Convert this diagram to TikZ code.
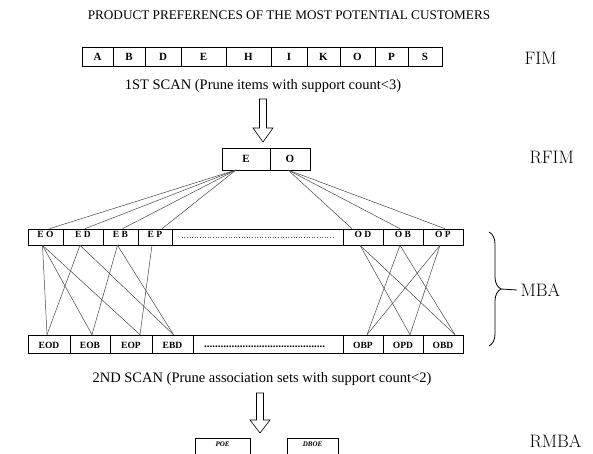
\documentclass[tikz,border=0pt]{standalone}
\usepackage{fontspec}
\newfontfamily\tnr{Liberation Serif}
\usetikzlibrary{positioning, calc, decorations.pathreplacing}

\begin{document}
\begin{tikzpicture}[x=1pt, y=-1pt]
        \tikzstyle{fcell} = [rectangle, draw=black, line width=0.6pt, inner sep=0pt, minimum height=19pt, font=\tnr\bfseries\fontsize{11}{13}\selectfont]
        \tikzstyle{mcell} = [rectangle, draw=black, line width=0.6pt, inner sep=0pt, minimum height=16pt, text height=6.5pt, text depth=5.5pt, font=\tnr\bfseries\fontsize{9.5}{11}\selectfont]
        \tikzstyle{bcell} = [rectangle, draw=black, line width=0.6pt, inner sep=0pt, minimum height=18pt]
        \tikzstyle{rcell} = [rectangle, draw=black, line width=0.6pt, anchor=north, inner xsep=0pt, inner ysep=3pt, text height=5pt, text depth=16pt, font=\tnr\bfseries\itshape\fontsize{7}{8}\selectfont]
        \tikzstyle{caption} = [font=\tnr\fontsize{14.5}{17}\selectfont]
        \tikzstyle{level} = [anchor=west, font=\fontsize{18}{20}\selectfont]
        \tikzstyle{link} = [draw=gray!55!black, line width=0.5pt]
        \tikzstyle{hollow} = [draw=black, line width=0.6pt, fill=white]

        \useasboundingbox (0,0) rectangle (593,454);

        \node (title) [font=\tnr\fontsize{13.2}{15}\selectfont] at (289,15) {PRODUCT PREFERENCES OF THE MOST POTENTIAL CUSTOMERS};

        % frequent items
        \foreach \n/\l/\r in {A/82/113, B/113/145, D/145/181, E/181/226, H/226/271, I/271/307, K/307/340, O/340/375, P/375/408, S/408/442}
            \node (f\n) [fcell, minimum width={(\r-\l)*1pt}] at ({(\l+\r)/2},56.5) {\n};
        \node (fim) [level] at (521,58) {FIM};
        \node (scan1) [caption] at (263,86) {1ST SCAN (Prune items with support count<3)};
        \draw [hollow] (259.5,99) -- (259.5,128) -- (253,128) -- (263,142) -- (273,128) -- (266.5,128) -- (266.5,99) -- cycle;

        % reduced items
        \node (rE) [fcell, minimum width=48pt, minimum height=22pt] at (246,159) {E};
        \node (rO) [fcell, minimum width=40pt, minimum height=22pt] at (290,159) {O};
        \node (rfim) [level] at (526,157) {RFIM};
        \coordinate (efan) at (236,170);
        \coordinate (ofan) at (288,170);

        % pairs
        \foreach \n/\t/\l/\r in {EO/E O/28/63, ED/E D/63/103, EB/E B/103/138, EP/E P/138/172, dots//172/343, OD/O D/343/383, OB/O B/383/423, OP/O P/423/463}
            \node (m\n) [mcell, minimum width={(\r-\l)*1pt}] at ({(\l+\r)/2},237) {\t};
        \draw [draw=blue!40!gray, dotted, line width=0.6pt] ($(mdots.west)+(10,0)$) -- ($(mdots.east)+(-10,0)$);

        % triples
        \foreach \n/\l/\r in {EOD/28/70, EOB/70/110, EOP/110/152, EBD/152/193, dots/193/343, OBP/343/383, OPD/383/423, OBD/423/463}
            \node (b\n) [bcell, minimum width={(\r-\l)*1pt}] at ({(\l+\r)/2},344) {};
        \foreach \n in {EOD, EOB, EOP, EBD, OBP, OPD, OBD}
            \node [font=\tnr\bfseries\fontsize{9.5}{11}\selectfont, yshift=-1pt] at (b\n) {\n};
        \node [font=\tnr\bfseries\fontsize{11}{13}\selectfont, anchor=base west] at ($(bdots.west)+(8,3)$) {............................................};

        \foreach \t/\dx in {EO/4, ED/2, EB/2, EP/7}
            \draw [link] (efan) -- ($(m\t.north)+(\dx,0)$);
        \foreach \t/\dx in {OD/-11, OB/-3, OP/2}
            \draw [link] (ofan) -- ($(m\t.north)+(\dx,0)$);
        \foreach \a/\b/\dx in {EO/EOD/-2, EO/EOB/2, EO/EOP/9, ED/EOD/-2, ED/EBD/1, EB/EOB/2, EB/EBD/1, EP/EOP/9, OD/OPD/7, OD/OBD/12, OB/OBP/4, OB/OBD/12, OP/OBP/4, OP/OPD/7}
            \draw [link] ($(m\a.south)+(-3,0)$) -- ($(b\b.north)+(\dx,0)$);

        \draw [draw=black, line width=0.8pt, decorate, decoration={brace, amplitude=12pt}] (489,232) -- (489,346);
        \node (mba) [level] at (517,290) {MBA};
        \draw [draw=black, line width=0.8pt] (501,289) -- (mba.west);

        % second scan
        \node (scan2) [caption] at (262,379) {2ND SCAN (Prune association sets with support count<2)};
        \draw [hollow] (256.5,393) -- (256.5,420) -- (250,420) -- (260,433) -- (270,420) -- (263.5,420) -- (263.5,393) -- cycle;
        \node (poe) [rcell, minimum width=55pt] at (222.5,438) {POE};
        \node (dboe) [rcell, minimum width=51pt] at (312.5,438) {DBOE};
        \node (rmba) [level] at (526,441) {RMBA};
    \end{tikzpicture}
\end{document}
